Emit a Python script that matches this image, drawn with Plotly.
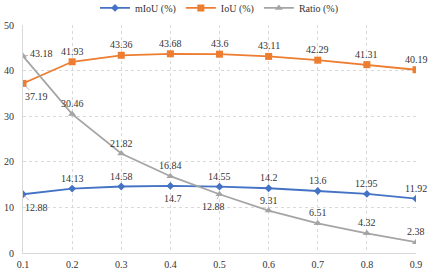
import plotly.graph_objects as go

x_vals = [0.1, 0.2, 0.3, 0.4, 0.5, 0.6, 0.7, 0.8, 0.9]
miou = [12.88, 14.13, 14.58, 14.7, 14.55, 14.2, 13.6, 12.95, 11.92]
iou = [37.19, 41.93, 43.36, 43.68, 43.6, 43.11, 42.29, 41.31, 40.19]
ratio = [43.18, 30.46, 21.82, 16.84, 12.88, 9.31, 6.51, 4.32, 2.38]
x_ticks = ["0.1", "0.2", "0.3", "0.4", "0.5", "0.6", "0.7", "0.8", "0.9"]
y_ticks = [0, 10, 20, 30, 40, 50]

FONT = "Liberation Serif"
TXT = "#333333"
BLUE = "#4472C4"
ORANGE = "#ED7D31"
GREY = "#A5A5A5"

fig = go.Figure()
fig.add_trace(go.Scatter(x=x_vals, y=miou, name="mIoU (%)", mode="lines+markers",
                         line=dict(color=BLUE, width=1.8),
                         marker=dict(symbol="diamond", size=6, color=BLUE)))
fig.add_trace(go.Scatter(x=x_vals, y=iou, name="IoU (%)", mode="lines+markers",
                         line=dict(color=ORANGE, width=1.8),
                         marker=dict(symbol="square", size=7, color=ORANGE)))
fig.add_trace(go.Scatter(x=x_vals, y=ratio, name="Ratio (%)", mode="lines+markers",
                         line=dict(color=GREY, width=1.8),
                         marker=dict(symbol="triangle-up", size=7, color=GREY)))

# label placement: default above; special offsets (pixels) for some points
special = {
    ("m", 0): (13, 13, True),
    ("m", 3): (3, 13, False),
    ("i", 0): (13, 13.5, True),
    ("r", 0): (18, -3, True),
    ("r", 4): (-6, 12, True),
}

annotations = []
for key, xs, ys in (("m", x_vals, miou), ("i", x_vals, iou), ("r", x_vals, ratio)):
    for i, (xv, yv) in enumerate(zip(xs, ys)):
        txt = f"{yv:g}"
        if (key, i) in special:
            dx, dy, leader = special[(key, i)]
            if leader:
                annotations.append(dict(x=xv, y=yv, text=txt, showarrow=True, arrowhead=0,
                                        arrowwidth=0.8, arrowcolor="#A6A6A6", ax=dx, ay=dy,
                                        standoff=2, font=dict(family=FONT, size=10, color=TXT)))
            else:
                annotations.append(dict(x=xv, y=yv, text=txt, showarrow=False,
                                        xshift=dx, yshift=-dy,
                                        font=dict(family=FONT, size=10, color=TXT)))
        else:
            annotations.append(dict(x=xv, y=yv, text=txt, showarrow=False, yshift=10.5,
                                    font=dict(family=FONT, size=10, color=TXT)))

fig.update_layout(
    width=436, height=271,
    margin=dict(l=23, r=20, t=25, b=18, autoexpand=False),
    paper_bgcolor="white", plot_bgcolor="white",
    font=dict(family=FONT, size=10, color=TXT),
    showlegend=True,
    legend=dict(orientation="h", x=0.5, xanchor="center", y=1.075, yanchor="middle",
                font=dict(family=FONT, size=10, color=TXT), itemwidth=30,
                bgcolor="rgba(0,0,0,0)", tracegroupgap=0),
    annotations=annotations,
    xaxis=dict(range=[0.1, 0.9], tickvals=x_vals, ticktext=x_ticks, showgrid=True,
               gridcolor="#D9D9D9", griddash="3px,3px", gridwidth=1, automargin=False,
               showline=True, linecolor="#D9D9D9", linewidth=1, zeroline=False,
               ticks="", ticklabelstandoff=2, tickfont=dict(family=FONT, size=10, color=TXT)),
    yaxis=dict(range=[0, 50], tickvals=y_ticks, showgrid=True,
               gridcolor="#D9D9D9", griddash="3px,3px", gridwidth=1, automargin=False,
               showline=True, linecolor="#D9D9D9", linewidth=1, zeroline=False,
               ticks="", ticklabelstandoff=6, tickfont=dict(family=FONT, size=10, color=TXT)),
)

fig.write_html("out.html", config={"displayModeBar": False},
               post_script="document.body.style.margin='0';document.body.style.overflow='hidden';")
